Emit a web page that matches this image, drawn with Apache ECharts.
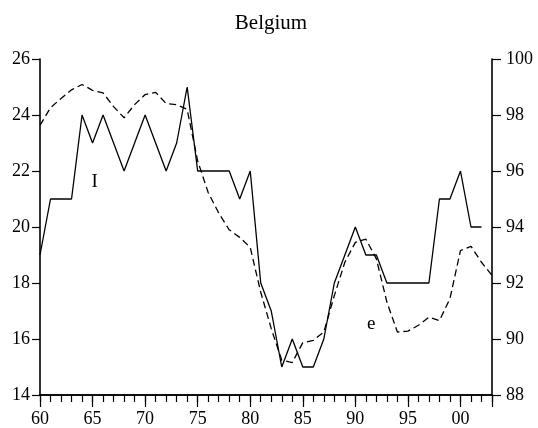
<!DOCTYPE html>
<html>
<head>
<meta charset="utf-8">
<script src="https://cdn.jsdelivr.net/npm/echarts@6/dist/echarts.min.js"></script>
<style>html,body{margin:0;padding:0;background:#fff}#c{width:538px;height:428px}</style>
</head>
<body>
<div id="c"></div>
<script>
var years = [1960,1961,1962,1963,1964,1965,1966,1967,1968,1969,1970,1971,1972,1973,1974,1975,1976,1977,1978,1979,1980,1981,1982,1983,1984,1985,1986,1987,1988,1989,1990,1991,1992,1993,1994,1995,1996,1997,1998,1999,2000,2001,2002,2003];
var investI = [19,21,21,21,24,23,24,23,22,23,24,23,22,23,25,22,22,22,22,21,22,18,17,15,16,15,15,16,18,19,20,19,19,18,18,18,18,18,21,21,22,20,20,null];
var employE = [97.63,98.26,98.59,98.9,99.09,98.88,98.79,98.3,97.9,98.37,98.73,98.81,98.41,98.37,98.2,96.36,95.23,94.5,93.9,93.63,93.27,91.67,90.37,89.24,89.16,89.87,89.95,90.25,91.55,92.74,93.45,93.57,92.86,91.32,90.25,90.28,90.49,90.78,90.66,91.44,93.16,93.31,92.74,92.27];
var leftTicks = {min:14, max:26, interval:2};
var rightTicks = {min:88, max:100, interval:2};
var titleText = 'Belgium';
var labelI = {text:'I', x:1965.2, y:21.6};
var labelE = {text:'e', x:1991.5, y:90.55};

var FONT = '"Liberation Serif", "Times New Roman", serif';
function pairs(v){ var out=[]; for (var i=0;i<years.length;i++){ if (v[i]!=null) out.push([years[i], v[i]]); } return out; }

var chart = echarts.init(document.getElementById('c'), null, {renderer:'canvas'});
var axisLineStyle = {color:'#000', width:1.6};
chart.setOption({
  animation:false,
  backgroundColor:'#fff',
  title:{text:titleText, left:266, textAlign:'center', top:8, textStyle:{fontFamily:FONT, fontSize:21, fontWeight:'normal', color:'#000'}},
  grid:{left:40, right:46, top:59, bottom:31, containLabel:false},
  xAxis:[
    {type:'value', position:'bottom', offset:0, min:1960, max:2003, interval:1,
     axisLine:{show:true, lineStyle:axisLineStyle, onZero:false},
     axisTick:{show:true, length:7, inside:false, lineStyle:{color:'#000', width:1.2}},
     axisLabel:{show:false}, splitLine:{show:false}},
    {type:'value', position:'bottom', offset:0, min:1960, max:2003, interval:5,
     axisLine:{show:true, lineStyle:axisLineStyle, onZero:false},
     axisTick:{show:true, length:12, inside:false, lineStyle:{color:'#000', width:1.2}},
     axisLabel:{show:true, margin:15, fontFamily:FONT, fontSize:18, color:'#000',
       formatter:function(v){ if (v%5!==0) return ''; var s=String(v%100); return s.length<2?'0'+s:s; }},
     splitLine:{show:false}}
  ],
  yAxis:[
    {type:'value', position:'left', min:leftTicks.min, max:leftTicks.max, interval:leftTicks.interval,
     axisLine:{show:true, lineStyle:axisLineStyle, onZero:false},
     axisTick:{show:true, length:8, inside:false, lineStyle:{color:'#000', width:1.2}},
     axisLabel:{margin:10, fontFamily:FONT, fontSize:18, color:'#000'}, splitLine:{show:false}},
    {type:'value', position:'right', min:rightTicks.min, max:rightTicks.max, interval:rightTicks.interval,
     axisLine:{show:true, lineStyle:axisLineStyle, onZero:false},
     axisTick:{show:true, length:9, inside:false, lineStyle:{color:'#000', width:1.2}},
     axisLabel:{margin:14, fontFamily:FONT, fontSize:18, color:'#000'}, splitLine:{show:false}}
  ],
  series:[
    {type:'line', name:'I', xAxisIndex:0, yAxisIndex:0, data:pairs(investI), symbol:'none',
     lineStyle:{color:'#000', width:1.3, type:'solid'},
     markPoint:{symbol:'rect', symbolSize:1, itemStyle:{color:'rgba(0,0,0,0)'},
       label:{show:true, position:'inside', formatter:labelI.text, fontFamily:FONT, fontSize:19, color:'#000'},
       data:[{coord:[labelI.x, labelI.y]}]}},
    {type:'line', name:'e', xAxisIndex:0, yAxisIndex:1, data:pairs(employE), symbol:'none',
     lineStyle:{color:'#000', width:1.3, type:[7,4]},
     markPoint:{symbol:'rect', symbolSize:1, itemStyle:{color:'rgba(0,0,0,0)'},
       label:{show:true, position:'inside', formatter:labelE.text, fontFamily:FONT, fontSize:19, color:'#000'},
       data:[{coord:[labelE.x, labelE.y]}]}}
  ]
});
</script>
</body>
</html>
